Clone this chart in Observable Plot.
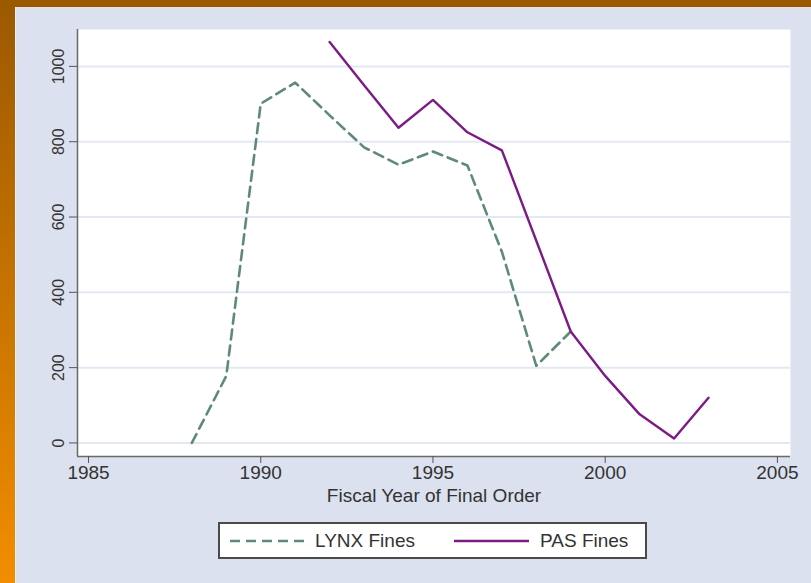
<!DOCTYPE html>
<html><head><meta charset="utf-8">
<script src="https://cdn.jsdelivr.net/npm/d3@7"></script>
<script src="https://cdn.jsdelivr.net/npm/@observablehq/plot@0.6"></script>
<style>
html,body{margin:0;padding:0;}
body{width:811px;height:583px;overflow:hidden;position:relative;background:linear-gradient(to bottom,#9b5900,#f28d00);font-family:"Liberation Sans",Arial,sans-serif;}
#panel{position:absolute;left:15px;top:7px;width:795px;height:576px;background:#dbe1ee;border-left:1px solid #eef1f7;}
#chart{position:absolute;left:0;top:0;}
#legend{position:absolute;left:218px;top:522px;width:425px;height:33px;background:#fff;border:2px solid #4a4a4a;box-sizing:content-box;font-size:19px;color:#333;}
#legend .item{position:absolute;top:0;height:33px;line-height:33px;white-space:nowrap;}
#legend svg{position:absolute;top:0;}
</style></head>
<body>
<div id="panel"></div>
<div id="chart"></div>
<div id="legend"></div>
<script>
const lynxYears = [1988, 1989, 1990, 1991, 1992, 1993, 1994, 1995, 1996, 1997, 1998, 1999];
const lynxFines = [0, 178, 901, 957, 870, 785, 739, 774, 737, 508, 205, 296];
const pasYears = [1992, 1993, 1994, 1995, 1996, 1997, 1998, 1999, 2000, 2001, 2002, 2003];
const pasFines = [1065, 950, 837, 911, 825, 777, 537, 296, 178, 76, 12, 120];
const xTicks = [1985, 1990, 1995, 2000, 2005];
const yTicks = [0, 200, 400, 600, 800, 1000];
const seriesNames = ["LYNX Fines", "PAS Fines"];
const seriesColors = ["#5e8a78", "#7c1a86"];
const xDomain = [1984.68, 2005.38];
const yDomain = [-36, 1098];

const lynx = lynxYears.map((y, i) => ({year: y, value: lynxFines[i]}));
const pas = pasYears.map((y, i) => ({year: y, value: pasFines[i]}));

const chart = Plot.plot({
  width: 811,
  height: 583,
  marginLeft: 77,
  marginRight: 21,
  marginTop: 29,
  marginBottom: 127,
  style: {background: "transparent", fontFamily: "'Liberation Sans', Arial, sans-serif", fontSize: "19px", color: "#333"},
  x: {domain: xDomain},
  y: {domain: yDomain},
  marks: [
    Plot.frame({fill: "white", stroke: null}),
    Plot.gridY(yTicks, {stroke: "#e3e8f2", strokeOpacity: 1, strokeWidth: 2}),
    Plot.ruleX([xDomain[0]], {stroke: "#6a6a6a", strokeWidth: 1.5}),
    Plot.ruleY([yDomain[0]], {stroke: "#6a6a6a", strokeWidth: 1.5}),
    Plot.axisY(yTicks, {tickSize: 8, tickPadding: 6, tickRotate: -90, tickFormat: d => String(d), stroke: "#555", fill: "#333", label: null, fontSize: 16}),
    Plot.axisX(xTicks, {tickSize: 7, tickPadding: 2, tickFormat: d => String(d), stroke: "#555", fill: "#333", label: "Fiscal Year of Final Order", labelAnchor: "center", labelArrow: "none", labelOffset: 45, fontSize: 19}),
    Plot.line(lynx, {x: "year", y: "value", stroke: seriesColors[0], strokeWidth: 2.6, strokeDasharray: "10,6"}),
    Plot.line(pas, {x: "year", y: "value", stroke: seriesColors[1], strokeWidth: 2.4})
  ]
});
document.getElementById("chart").appendChild(chart);

const legend = document.getElementById("legend");
const items = [
  {sx: 10, tx: 95, dash: "10,6"},
  {sx: 234, tx: 320, dash: null}
];
items.forEach((it, i) => {
  const ns = "http://www.w3.org/2000/svg";
  const svg = document.createElementNS(ns, "svg");
  svg.setAttribute("width", 76); svg.setAttribute("height", 33);
  svg.style.left = it.sx + "px";
  const ln = document.createElementNS(ns, "line");
  ln.setAttribute("x1", 0); ln.setAttribute("x2", 75);
  ln.setAttribute("y1", 17); ln.setAttribute("y2", 17);
  ln.setAttribute("stroke", seriesColors[i]); ln.setAttribute("stroke-width", 2.6);
  if (it.dash) ln.setAttribute("stroke-dasharray", it.dash);
  svg.appendChild(ln);
  legend.appendChild(svg);
  const t = document.createElement("div");
  t.className = "item"; t.style.left = it.tx + "px"; t.textContent = seriesNames[i];
  legend.appendChild(t);
});
</script>
</body></html>
